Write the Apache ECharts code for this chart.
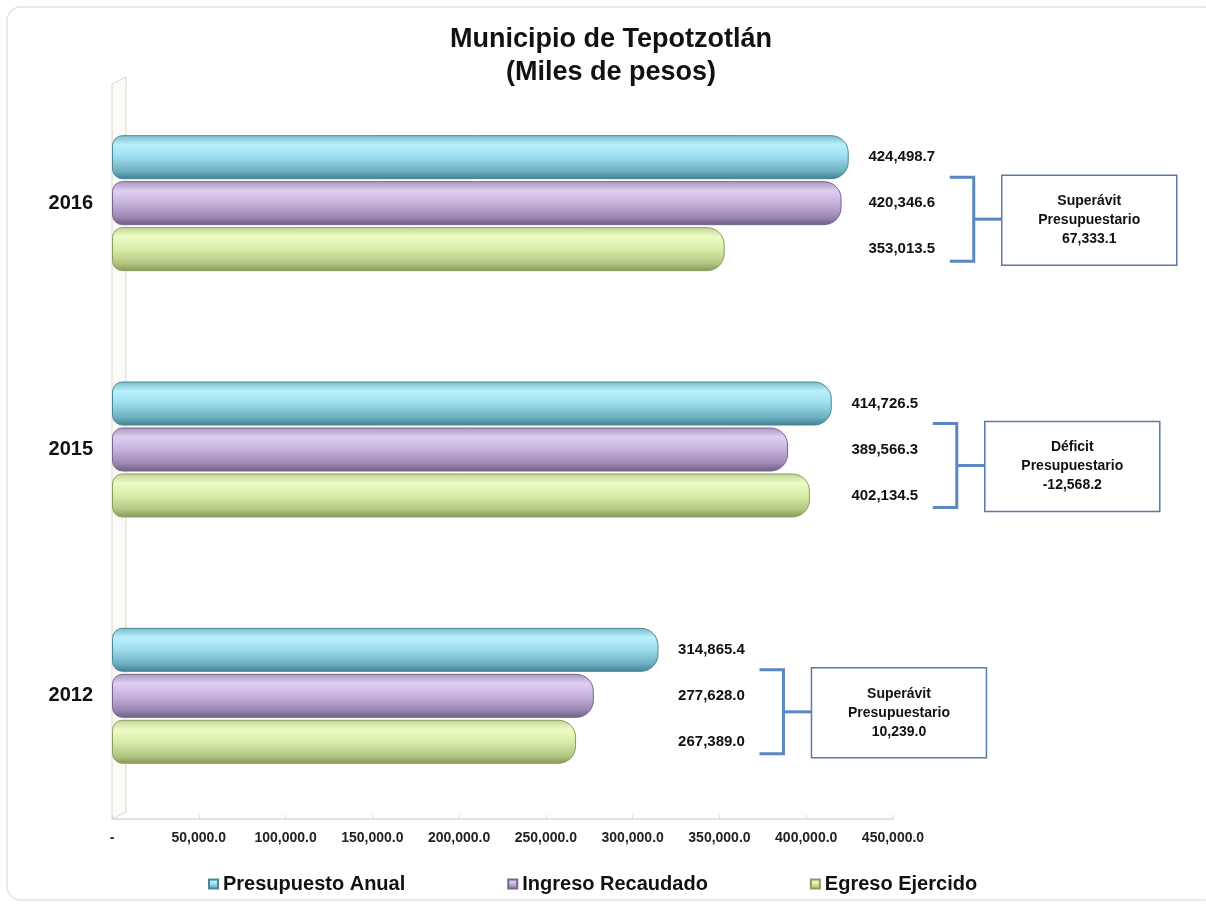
<!DOCTYPE html>
<html>
<head>
<meta charset="utf-8">
<script src="https://cdn.jsdelivr.net/npm/echarts@6/dist/echarts.min.js"></script>
<style>
  html, body { margin: 0; padding: 0; background: #fff; }
  #main { width: 1206px; height: 906px; }
</style>
</head>
<body>
<div id="main"></div>
<script>
// datos (miles de pesos)
const years = ['2016', '2015', '2012'];
const presupuestoAnual = [424498.7, 414726.5, 314865.4];
const ingresoRecaudado = [420346.6, 389566.3, 277628.0];
const egresoEjercido = [353013.5, 402134.5, 267389.0];
const balanceTitles = ['Superávit', 'Déficit', 'Superávit'];
const balanceValues = [67333.1, -12568.2, 10239.0];
const axisMin = 0;
const axisMax = 450000;
const axisStep = 50000;

const seriesNames = ['Presupuesto Anual', 'Ingreso Recaudado', 'Egreso Ejercido'];
const seriesData = [presupuestoAnual, ingresoRecaudado, egresoEjercido];

const FONT = '"Liberation Sans", Arial, sans-serif';
const BAR_W = 44;
const BAR_STEP = 46;

function fmt(v) {
  return v.toLocaleString('en-US', {minimumFractionDigits: 1, maximumFractionDigits: 1});
}

function tube(stops) {
  return new echarts.graphic.LinearGradient(0, 0, 0, 1, [
    {offset: 0, color: stops[0]},
    {offset: 0.22, color: stops[1]},
    {offset: 0.5, color: stops[2]},
    {offset: 0.82, color: stops[3]},
    {offset: 1, color: stops[4]}
  ]);
}

const tubeColors = [
  ['#79bccd', '#b9f0fc', '#9ddcec', '#6cafc0', '#3f7f90'],
  ['#a896c0', '#dfd0f2', '#c5b2dc', '#9b87b3', '#6d5d84'],
  ['#c2d396', '#ecfcc4', '#d9eca8', '#b3c682', '#849655']
];
const borderColors = ['#4d8797', '#76668c', '#8c9c60'];

// etiquetas de valor: alineadas a la derecha de la barra mayor de cada año
const labelItems = [];
years.forEach(function (y, ci) {
  const groupMax = Math.max(presupuestoAnual[ci], ingresoRecaudado[ci], egresoEjercido[ci]);
  seriesData.forEach(function (arr, si) {
    labelItems.push([groupMax, ci, si, arr[ci]]);
  });
});

const bracketItems = years.map(function (y, ci) {
  const groupMax = Math.max(presupuestoAnual[ci], ingresoRecaudado[ci], egresoEjercido[ci]);
  return [groupMax, ci, balanceValues[ci]];
});

const chart = echarts.init(document.getElementById('main'));

const barSeries = seriesNames.map(function (name, si) {
  return {
    name: name,
    type: 'bar',
    data: seriesData[si],
    barWidth: BAR_W,
    barGap: '4.5%',
    itemStyle: {
      color: tube(tubeColors[si]),
      borderColor: borderColors[si],
      borderWidth: 1,
      borderRadius: [10, 17, 17, 10]
    }
  };
});

chart.setOption({
  backgroundColor: '#fff',
  animation: false,
  title: {
    text: 'Municipio de Tepotzotlán\n(Miles de pesos)',
    left: 606,
    top: 18,
    textAlign: 'center',
    textStyle: {
      fontFamily: FONT,
      fontSize: 27,
      fontWeight: 'bold',
      lineHeight: 33,
      color: '#111'
    }
  },
  legend: {
    data: seriesNames,
    left: 203,
    top: 869,
    icon: 'rect',
    itemWidth: 9,
    itemHeight: 9,
    itemGap: 102,
    textStyle: {
      fontFamily: FONT,
      fontSize: 20,
      fontWeight: 'bold',
      color: '#111'
    }
  },
  graphic: [
    // marco exterior
    {
      type: 'rect',
      shape: {x: 7, y: 7, width: 1210, height: 893, r: 14},
      style: {fill: 'none', stroke: '#e4e4e4', lineWidth: 1.5},
      silent: true,
      z: -10
    },
    // pared lateral 3D
    {
      type: 'polygon',
      shape: {points: [[112, 84], [126, 77], [126, 812], [112, 819]]},
      style: {fill: '#fbfbf8', stroke: '#d8d8cf', lineWidth: 1},
      silent: true,
      z: -5
    }
  ],
  grid: {
    left: 112,
    right: 313,
    top: 80,
    bottom: 87,
    containLabel: false
  },
  xAxis: {
    type: 'value',
    min: axisMin,
    max: axisMax,
    interval: axisStep,
    axisLine: {show: true, lineStyle: {color: '#d9d9d2', width: 1.5}},
    axisTick: {show: true, inside: true, length: 4, lineStyle: {color: '#d9d9d2'}},
    splitLine: {show: false},
    axisLabel: {
      margin: 12,
      fontFamily: FONT,
      fontSize: 14,
      fontWeight: 'bold',
      color: '#222',
      formatter: function (v) { return v === 0 ? '-' : fmt(v); }
    }
  },
  yAxis: {
    type: 'category',
    data: years,
    inverse: true,
    axisLine: {show: false},
    axisTick: {show: false},
    axisLabel: {
      margin: 19,
      fontFamily: FONT,
      fontSize: 20,
      fontWeight: 'bold',
      color: '#111'
    }
  },
  series: barSeries.concat([
    {
      name: 'etiquetas',
      type: 'custom',
      silent: true,
      clip: false,
      z: 5,
      data: labelItems,
      encode: {x: 0, y: 1},
      renderItem: function (params, api) {
        const pt = api.coord([api.value(0), api.value(1)]);
        return {
          type: 'text',
          style: {
            x: pt[0] + 53,
            y: pt[1] + (api.value(2) - 1) * BAR_STEP,
            text: fmt(api.value(3)),
            align: 'center',
            verticalAlign: 'middle',
            font: 'bold 15px ' + FONT,
            fill: '#111'
          }
        };
      }
    },
    {
      name: 'balance',
      type: 'custom',
      silent: true,
      clip: false,
      z: 5,
      data: bracketItems,
      encode: {x: 0, y: 1},
      renderItem: function (params, api) {
        const pt = api.coord([api.value(0), api.value(1)]);
        const bx = pt[0] + 125;
        const top = pt[1] - 26;
        const bot = pt[1] + 58;
        const mid = pt[1] + 16;
        const boxX = bx + 28;
        const boxW = 175;
        const boxTop = pt[1] - 28;
        const boxH = 90;
        const ci = params.dataIndex;
        return {
          type: 'group',
          children: [
            {
              type: 'polyline',
              shape: {points: [[bx - 24, top], [bx, top], [bx, bot], [bx - 24, bot]]},
              style: {stroke: '#5b87c2', lineWidth: 3, fill: 'none'}
            },
            {
              type: 'line',
              shape: {x1: bx, y1: mid, x2: boxX, y2: mid},
              style: {stroke: '#5b87c2', lineWidth: 3}
            },
            {
              type: 'rect',
              shape: {x: boxX, y: boxTop, width: boxW, height: boxH},
              style: {fill: '#fff', stroke: '#5a78a8', lineWidth: 1.5}
            },
            {
              type: 'text',
              style: {
                x: boxX + boxW / 2,
                y: boxTop + boxH / 2,
                text: balanceTitles[ci] + '\nPresupuestario\n' + fmt(api.value(2)),
                align: 'center',
                verticalAlign: 'middle',
                font: 'bold 14px ' + FONT,
                lineHeight: 19,
                fill: '#111'
              }
            }
          ]
        };
      }
    }
  ])
});
</script>
</body>
</html>
